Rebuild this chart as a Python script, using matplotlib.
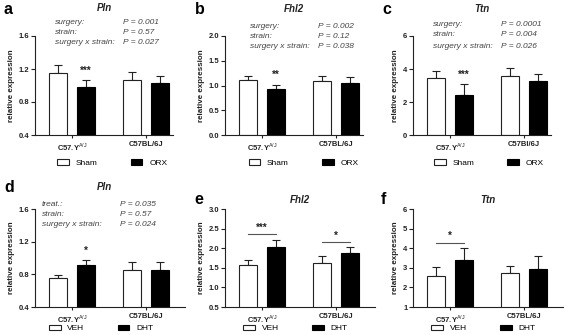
import numpy as np
import matplotlib
matplotlib.use("Agg")
import matplotlib.pyplot as plt

plt.rcParams['font.family'] = ['Liberation Sans', 'DejaVu Sans']
plt.rcParams['mathtext.fontset'] = 'custom'
plt.rcParams['mathtext.rm'] = 'Liberation Sans'
plt.rcParams['mathtext.bf'] = 'Liberation Sans:bold'

##---------------------------------- data ----------------------------------##
strains = [r'C57.Y$^{\mathrm{A/J}}$', 'C57BL/6J']
strains_c = [r'C57.Y$^{\mathrm{A/J}}$', 'C57Bl/6J']
genes = ['Pln', 'Fhl2', 'Ttn', 'Pln', 'Fhl2', 'Ttn']
letters = ['a', 'b', 'c', 'd', 'e', 'f']

# top row: Sham vs ORX
a_sham, a_sham_err = [1.15, 1.07], [0.10, 0.09]
a_orx, a_orx_err = [0.98, 1.03], [0.09, 0.08]
b_sham, b_sham_err = [1.11, 1.09], [0.08, 0.10]
b_orx, b_orx_err = [0.92, 1.05], [0.10, 0.12]
c_sham, c_sham_err = [3.47, 3.58], [0.38, 0.50]
c_orx, c_orx_err = [2.43, 3.25], [0.68, 0.42]
# bottom row: VEH vs DHT
d_veh, d_veh_err = [0.76, 0.85], [0.03, 0.10]
d_dht, d_dht_err = [0.91, 0.85], [0.07, 0.10]
e_veh, e_veh_err = [1.57, 1.62], [0.14, 0.18]
e_dht, e_dht_err = [2.02, 1.88], [0.19, 0.15]
f_veh, f_veh_err = [2.60, 2.75], [0.42, 0.33]
f_dht, f_dht_err = [3.40, 2.93], [0.62, 0.67]

yticks = [[0.4, 0.8, 1.2, 1.6], [0.0, 0.5, 1.0, 1.5, 2.0], [0, 2, 4, 6],
          [0.4, 0.8, 1.2, 1.6], [0.5, 1.0, 1.5, 2.0, 2.5, 3.0], [1, 2, 3, 4, 5, 6]]
ytick_labels = [['0.4', '0.8', '1.2', '1.6'], ['0.0', '0.5', '1.0', '1.5', '2.0'],
                ['0', '2', '4', '6'], ['0.4', '0.8', '1.2', '1.6'],
                ['0.5', '1.0', '1.5', '2.0', '2.5', '3.0'], ['1', '2', '3', '4', '5', '6']]

stat_names_top = ['surgery:', 'strain:', 'surgery x strain:']
stat_names_d = ['treat.:', 'strain:', 'surgery x strain:']
a_pvals = ['P = 0.001', 'P = 0.57', 'P = 0.027']
b_pvals = ['P = 0.002', 'P = 0.12', 'P = 0.038']
c_pvals = ['P = 0.0001', 'P = 0.004', 'P = 0.026']
d_pvals = ['P = 0.035', 'P = 0.57', 'P = 0.024']

# significance: (strain index, stars) above treated bar
a_sig = [(0, '***')]
b_sig = [(0, '**')]
c_sig = [(0, '***')]
d_sig = [(0, '*')]
# brackets: (strain index, stars, line height)
e_brackets = [(0, '***', 2.36), (1, '*', 2.16)]
f_brackets = [(0, '*', 4.28)]

##--------------------------------- plot ----------------------------------##
W, H = 567, 335
fig = plt.figure(figsize=(W / 100, H / 100), dpi=100)

def px(x, y):
    return x / W, 1 - y / H

off, bw = 0.19, 0.245
dark = '#222222'

def panel(left, top, bottom, width, xmax, legend_y, ctrl, ctrl_err, trt, trt_err,
          ticks, tlabels, xlabels, legend_names, legend_x):
    ax = fig.add_axes([left / W, 1 - bottom / H, width / W, (bottom - top) / H])
    x = np.arange(2)
    ax.bar(x - off, ctrl, bw, color='white', edgecolor=dark, linewidth=0.8,
           label=legend_names[0], zorder=2)
    ax.bar(x + off, trt, bw, color='black', edgecolor='black', linewidth=0.8,
           label=legend_names[1], zorder=2)
    ax.errorbar(x - off, ctrl, yerr=[np.zeros(2), ctrl_err], fmt='none',
                ecolor=dark, elinewidth=0.8, capsize=3, capthick=0.8, zorder=1)
    ax.errorbar(x + off, trt, yerr=[np.zeros(2), trt_err], fmt='none',
                ecolor=dark, elinewidth=0.8, capsize=3, capthick=0.8, zorder=1)
    ax.set_ylim(ticks[0], ticks[-1])
    ax.set_xlim(-0.5, xmax)
    ax.set_yticks(ticks)
    ax.set_yticklabels(tlabels, fontsize=5.5, fontweight='bold', color=dark)
    ax.set_xticks(x)
    ax.set_xticklabels(xlabels, fontsize=5.5, fontweight='bold', color=dark)
    ax.tick_params(axis='y', length=3, width=0.8, pad=1, color=dark)
    ax.tick_params(axis='x', length=2, width=0.8, pad=2, color=dark)
    for s in ['top', 'right']:
        ax.spines[s].set_visible(False)
    for s in ['left', 'bottom']:
        ax.spines[s].set_linewidth(0.8)
        ax.spines[s].set_color(dark)
    ax.set_ylabel('relative expression', fontsize=5.8, fontweight='bold',
                  color=dark, labelpad=3)
    ax.legend(loc='center', bbox_to_anchor=(legend_x, legend_y), ncol=2,
              frameon=False, fontsize=6, handlelength=1.4, handleheight=0.6,
              handletextpad=0.8, columnspacing=4.0)
    return ax

def stats(ax, names, pvals, x_name, x_p, ys):
    for n, p, y in zip(names, pvals, ys):
        ax.text(x_name / W, 1 - y / H, n, transform=fig.transFigure,
                fontsize=6, style='italic', color='#444444', va='center')
        ax.text(x_p / W, 1 - y / H, p, transform=fig.transFigure,
                fontsize=6, style='italic', color='#444444', va='center')

def stars_above(ax, sig, trt, trt_err):
    for i, s in sig:
        ax.annotate(s, (i + off, trt[i] + trt_err[i]), xytext=(0, 3),
                    textcoords='offset points', ha='center', va='bottom',
                    fontsize=7, fontweight='bold', color=dark)

def brackets(ax, br):
    for i, s, h in br:
        ax.plot([i - off, i + off], [h, h], color='#555555', lw=0.8)
        ax.annotate(s, (i, h), xytext=(0, 1), textcoords='offset points',
                    ha='center', va='bottom', fontsize=7, fontweight='bold',
                    color=dark)

top_args = dict(top=36, bottom=135, width=138, xmax=1.365, legend_y=-0.285)
bot_args = dict(top=209, bottom=307, width=150, xmax=1.53, legend_y=-0.22)

ax_a = panel(35, ctrl=a_sham, ctrl_err=a_sham_err, trt=a_orx, trt_err=a_orx_err,
             ticks=yticks[0], tlabels=ytick_labels[0], xlabels=strains,
             legend_names=['Sham', 'ORX'], legend_x=0.56, **top_args)
ax_b = panel(225, ctrl=b_sham, ctrl_err=b_sham_err, trt=b_orx, trt_err=b_orx_err,
             ticks=yticks[1], tlabels=ytick_labels[1], xlabels=strains,
             legend_names=['Sham', 'ORX'], legend_x=0.57, **top_args)
ax_c = panel(413, ctrl=c_sham, ctrl_err=c_sham_err, trt=c_orx, trt_err=c_orx_err,
             ticks=yticks[2], tlabels=ytick_labels[2], xlabels=strains_c,
             legend_names=['Sham', 'ORX'], legend_x=0.55, **top_args)
ax_d = panel(35, ctrl=d_veh, ctrl_err=d_veh_err, trt=d_dht, trt_err=d_dht_err,
             ticks=yticks[3], tlabels=ytick_labels[3], xlabels=strains,
             legend_names=['VEH', 'DHT'], legend_x=0.44, **bot_args)
ax_e = panel(225, ctrl=e_veh, ctrl_err=e_veh_err, trt=e_dht, trt_err=e_dht_err,
             ticks=yticks[4], tlabels=ytick_labels[4], xlabels=strains,
             legend_names=['VEH', 'DHT'], legend_x=0.47, **bot_args)
ax_f = panel(413, ctrl=f_veh, ctrl_err=f_veh_err, trt=f_dht, trt_err=f_dht_err,
             ticks=yticks[5], tlabels=ytick_labels[5], xlabels=strains,
             legend_names=['VEH', 'DHT'], legend_x=0.47, **bot_args)

stats(ax_a, stat_names_top, a_pvals, 55, 123, [22, 32, 42])
stats(ax_b, stat_names_top, b_pvals, 250, 318, [27, 37, 47])
stats(ax_c, stat_names_top, c_pvals, 433, 501, [25, 35, 46])
stats(ax_d, stat_names_d, d_pvals, 42, 120, [205, 215, 225])

stars_above(ax_a, a_sig, a_orx, a_orx_err)
stars_above(ax_b, b_sig, b_orx, b_orx_err)
stars_above(ax_c, c_sig, c_orx, c_orx_err)
stars_above(ax_d, d_sig, d_dht, d_dht_err)
brackets(ax_e, e_brackets)
brackets(ax_f, f_brackets)

# panel letters and gene titles
title_pos = [(104, 8), (294, 9), (482, 9), (104, 187), (300, 200), (488, 200)]
letter_pos = [(4, 10), (195, 10), (382, 10), (4, 188), (194, 200), (381, 200)]
for g, l, (tx, ty), (lx, ly) in zip(genes, letters, title_pos, letter_pos):
    fig.text(*px(tx, ty), g, fontsize=7, fontweight='bold', style='italic',
             ha='center', va='center', color=dark)
    fig.text(*px(lx, ly), l, fontsize=11.5, fontweight='bold',
             ha='left', va='center', color='black')

fig.savefig('out.png', dpi=100)
